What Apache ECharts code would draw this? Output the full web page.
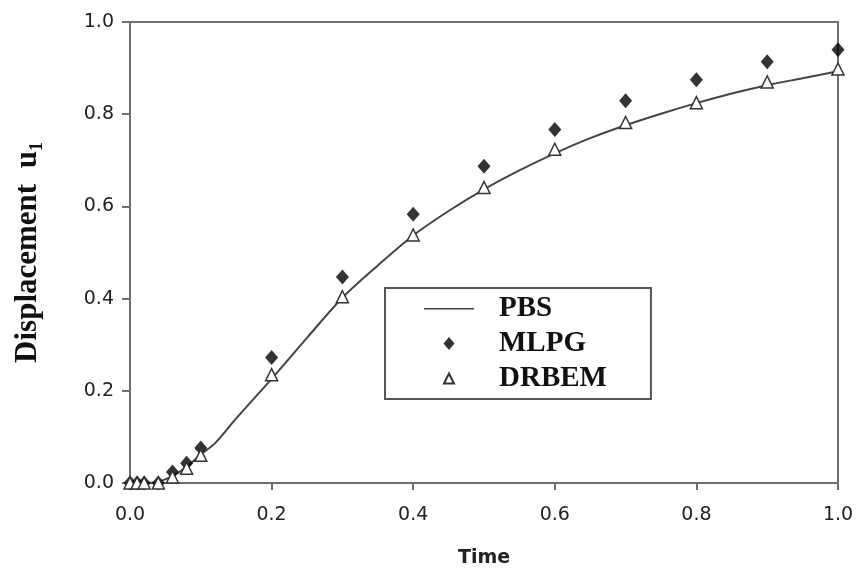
<!DOCTYPE html>
<html>

<head>
    <meta charset="utf-8">
    <script type="text/javascript" src="https://cdn.jsdelivr.net/npm/echarts@6/dist/echarts.min.js"></script>
    <title>Displacement u1</title>
</head>

<body style="margin:0;background:#fff;">
    <div id="container" style="width:859px;height:577px;"></div>
    <script type="text/javascript">
    // PBS curve
    var pbsTime = [0, 0.02, 0.04, 0.06, 0.08, 0.1, 0.12, 0.15, 0.2, 0.25, 0.3, 0.35, 0.4, 0.45, 0.5,
        0.55, 0.6, 0.65, 0.7, 0.75, 0.8, 0.85, 0.9, 0.95, 1.0];
    var pbsValue = [0, 0, 0.003, 0.015, 0.035, 0.062, 0.086, 0.14, 0.226, 0.315, 0.402, 0.472, 0.537, 0.59, 0.637,
        0.678, 0.715, 0.748, 0.776, 0.801, 0.824, 0.845, 0.863, 0.878, 0.893];

    // MLPG and DRBEM points
    var pointTime = [0, 0.01, 0.02, 0.04, 0.06, 0.08, 0.1, 0.2, 0.3, 0.4, 0.5, 0.6, 0.7, 0.8, 0.9, 1.0];
    var mlpgValue = [0, 0, 0, 0, 0.024, 0.043, 0.076, 0.272, 0.447, 0.583, 0.687, 0.767, 0.829, 0.875, 0.914, 0.940];
    var drbemValue = [0, 0, 0, 0, 0.013, 0.032, 0.06, 0.235, 0.404, 0.538, 0.641, 0.724, 0.782, 0.825, 0.870, 0.898];

    function pairs(xs, ys) {
        return xs.map(function (x, i) { return [x, ys[i]]; });
    }

    var myChart = echarts.init(document.getElementById('container'));

    var axisLineStyle = { color: '#6e6e6e', width: 2 };
    var tickLabel = { fontFamily: 'DejaVu Sans', fontSize: 19, color: '#222' };
    var serif = 'Liberation Serif, Times New Roman';

    // legend icons: corner points keep the 50x14 box so the shapes are not stretched
    var iconLine = 'path://M0,0 L0,0 M0,6.5 L50,6.5 L50,8 L0,8 Z M50,14 L50,14';
    var iconDiamond = 'path://M0,0 L0,0 M25,0.5 L30.5,7 L25,13.5 L19.5,7 Z M50,14 L50,14';
    var iconTriangle = 'path://M0,0 L0,0 M25,2 L30,12 L20,12 Z M50,14 L50,14';

    var option = {
        backgroundColor: '#fff',
        animation: false,
        grid: {
            left: 130, right: 21, top: 22, bottom: 94,
            show: true, borderColor: '#6e6e6e', borderWidth: 2
        },
        legend: {
            orient: 'vertical',
            left: 385, top: 288,
            padding: [6, 44, 6, 38],
            backgroundColor: '#fff',
            borderColor: '#555', borderWidth: 2,
            itemWidth: 50, itemHeight: 14, itemGap: 6,
            textStyle: {
                fontFamily: serif, fontWeight: 'bold',
                fontSize: 29, lineHeight: 29, color: '#111', padding: [0, 0, 0, 20]
            },
            data: [
                { name: 'PBS', icon: iconLine },
                { name: 'MLPG', icon: iconDiamond },
                { name: 'DRBEM', icon: iconTriangle }
            ]
        },
        xAxis: {
            type: 'value',
            min: 0, max: 1, interval: 0.2,
            name: 'Time',
            nameLocation: 'middle',
            nameGap: 66,
            nameTextStyle: { fontFamily: 'DejaVu Sans', fontWeight: 'bold', fontSize: 19, color: '#222' },
            axisLine: { show: true, lineStyle: axisLineStyle },
            axisTick: { show: true, length: 7, lineStyle: axisLineStyle },
            axisLabel: Object.assign({ margin: 23, formatter: function (v) { return v.toFixed(1); } }, tickLabel),
            splitLine: { show: false }
        },
        yAxis: {
            type: 'value',
            min: 0, max: 1, interval: 0.2,
            name: 'Displacement  {u|u}{s|1}',
            nameLocation: 'middle',
            nameGap: 84,
            nameTextStyle: {
                fontFamily: serif, fontWeight: 'bold', fontSize: 31, color: '#111',
                lineHeight: 36,
                rich: {
                    u: { fontFamily: serif, fontWeight: 'bold', fontSize: 31, color: '#111', lineHeight: 36 },
                    s: { fontFamily: serif, fontWeight: 'bold', fontSize: 18, color: '#111', verticalAlign: 'bottom', lineHeight: 10 }
                }
            },
            axisLine: { show: true, lineStyle: axisLineStyle },
            axisTick: { show: true, length: 8, lineStyle: axisLineStyle },
            axisLabel: Object.assign({ margin: 16, formatter: function (v) { return v.toFixed(1); } }, tickLabel),
            splitLine: { show: false }
        },
        series: [{
            name: 'PBS',
            type: 'line',
            symbol: 'none',
            smooth: 0.3,
            lineStyle: { color: '#444', width: 2 },
            itemStyle: { color: '#444' },
            data: pairs(pbsTime, pbsValue),
            z: 2
        }, {
            name: 'MLPG',
            type: 'scatter',
            symbol: 'diamond',
            symbolSize: [13, 15],
            itemStyle: { color: '#000' },
            data: pairs(pointTime, mlpgValue),
            z: 3
        }, {
            name: 'DRBEM',
            type: 'scatter',
            symbol: 'triangle',
            symbolSize: 12,
            itemStyle: { color: '#fff', borderColor: '#333', borderWidth: 1.5, opacity: 1 },
            data: pairs(pointTime, drbemValue),
            z: 4
        }]
    };

    myChart.setOption(option);
    </script>
</body>

</html>
